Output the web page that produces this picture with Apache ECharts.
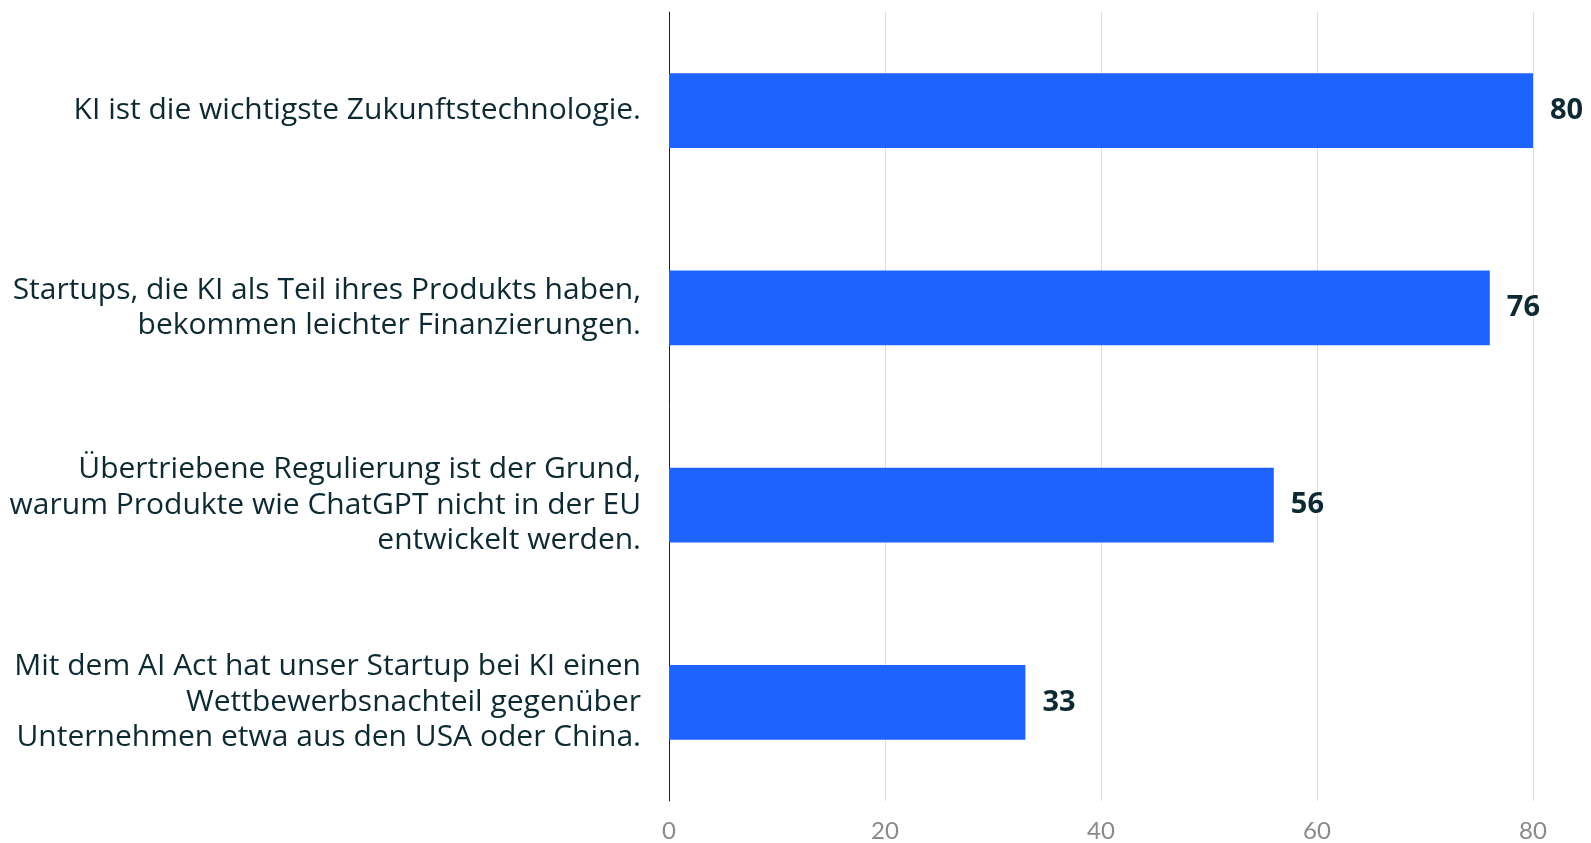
<!DOCTYPE html>
<html>
<head>
<meta charset="utf-8">
<script src="https://cdn.jsdelivr.net/npm/echarts@6/dist/echarts.min.js"></script>
<style>
  html, body { margin: 0; padding: 0; background: #fff; }
  #chart { width: 1591px; height: 843px; }
</style>
</head>
<body>
<div id="chart"></div>
<script>
// Aussagen (von oben nach unten)
var categories = [
    'KI ist die wichtigste Zukunftstechnologie.',
    'Startups, die KI als Teil ihres Produkts haben,\nbekommen leichter Finanzierungen.',
    'Übertriebene Regulierung ist der Grund,\nwarum Produkte wie ChatGPT nicht in der EU\nentwickelt werden.',
    'Mit dem AI Act hat unser Startup bei KI einen\nWettbewerbsnachteil gegenüber\nUnternehmen etwa aus den USA oder China.'
];
var values = [80, 76, 56, 33];
var ticks = [0, 20, 40, 60, 80];

var textColor = '#0d2a33';

var myChart = echarts.init(document.getElementById('chart'));
var option = {
    animation: false,
    grid: { left: 669, right: 58, top: 12, bottom: 41, containLabel: false },
    xAxis: {
        type: 'value',
        min: ticks[0],
        max: ticks[ticks.length - 1],
        interval: 20,
        axisLine: { show: false },
        axisTick: { show: false },
        splitLine: { lineStyle: { color: '#dcdcdc', width: 1 } },
        axisLabel: { color: '#8a8a8a', fontSize: 24, fontFamily: 'Lato', margin: 18 }
    },
    yAxis: {
        type: 'category',
        inverse: true,
        data: categories,
        axisLine: { show: true, lineStyle: { color: '#0d2a33', width: 1 } },
        axisTick: { show: false },
        axisLabel: {
            color: textColor, fontSize: 30, fontFamily: 'Open Sans',
            lineHeight: 35.5, align: 'right', margin: 28
        }
    },
    series: [{
        type: 'bar',
        data: values,
        barWidth: '38%',
        itemStyle: { color: '#1f63ff' },
        label: {
            show: true,
            position: 'right',
            distance: 17,
            color: textColor,
            fontSize: 29,
            fontWeight: 'bold',
            fontFamily: 'Open Sans'
        }
    }]
};
myChart.setOption(option);
</script>
</body>
</html>
